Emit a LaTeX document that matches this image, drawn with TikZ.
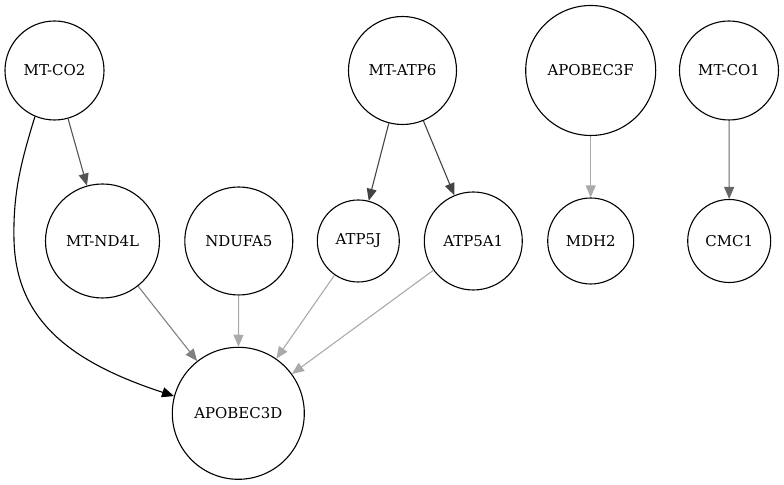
\documentclass[tikz,border=0pt]{standalone}
\usepackage{fontspec}
\setmainfont{DejaVu Serif}
\usetikzlibrary{arrows.meta}
\definecolor{eA}{HTML}{555555}
\definecolor{eB}{HTML}{444444}
\definecolor{eC}{HTML}{AAAAAA}
\definecolor{eD}{HTML}{666666}
\definecolor{eE}{HTML}{808080}
\tikzset{
  gnode/.style={circle, draw=black, line width=1.1bp, inner sep=0pt, fill=white,
    font=\fontsize{15}{17}\selectfont},
  gedge/.style={line width=1.1bp, -{Triangle[length=12bp,width=10bp]}},
}
\begin{document}
\begin{tikzpicture}[x=1bp,y=1bp]
\useasboundingbox (0,0) rectangle (784,485);
% top row
\node[gnode, minimum size=99bp]  (co2)   at (54.5,414.5) {MT-CO2};
\node[gnode, minimum size=108bp] (atp6)  at (402.5,414.5) {MT-ATP6};
\node[gnode, minimum size=130bp] (a3f)   at (590.7,414.5) {APOBEC3F};
\node[gnode, minimum size=99bp]  (co1)   at (729,414.5) {MT-CO1};
% middle row
\node[gnode, minimum size=114bp] (nd4l)  at (102.5,244) {MT-ND4L};
\node[gnode, minimum size=108bp] (ndufa5) at (238.8,244) {NDUFA5};
\node[gnode, minimum size=82bp]  (atp5j) at (358.3,244) {ATP5J};
\node[gnode, minimum size=98bp]  (atp5a1) at (473.3,244) {ATP5A1};
\node[gnode, minimum size=86bp]  (mdh2)  at (590.7,244) {MDH2};
\node[gnode, minimum size=83bp]  (cmc1)  at (729.2,244) {CMC1};
% bottom
\node[gnode, minimum size=132bp] (a3d)   at (238.3,71.7) {APOBEC3D};
% edges
\draw[gedge, color=eA] (co2) -- (nd4l);
\draw[gedge, color=black] (co2.247) .. controls (20,320) and (13,290) .. (14,245)
   .. controls (16,165) and (70,123) .. (a3d.165);
\draw[gedge, color=eB] (atp6) -- (atp5j);
\draw[gedge, color=eB] (atp6) -- (atp5a1);
\draw[gedge, color=eC] (a3f) -- (mdh2);
\draw[gedge, color=eD] (co1) -- (cmc1);
\draw[gedge, color=eE] (nd4l) -- (a3d);
\draw[gedge, color=eC] (ndufa5) -- (a3d);
\draw[gedge, color=eC] (atp5j) -- (a3d);
\draw[gedge, color=eC] (atp5a1) -- (a3d);
\end{tikzpicture}
\end{document}
